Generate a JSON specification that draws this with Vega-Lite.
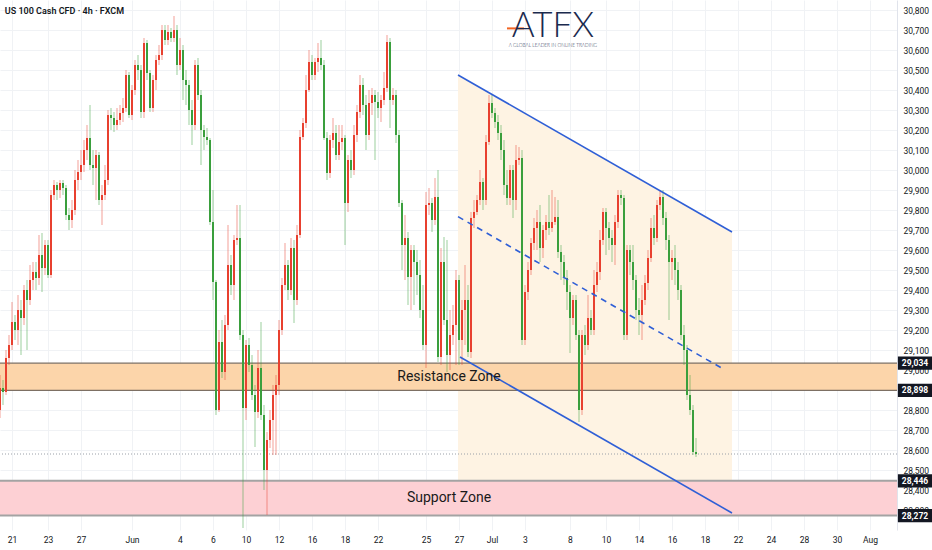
{
  "$schema": "https://vega.github.io/schema/vega-lite/v6.json",
  "description": "US 100 Cash CFD 4h candles with descending channel, resistance and support zones",
  "width": 897,
  "height": 530,
  "autosize": {"type": "none"},
  "padding": {"left": 0, "top": 0, "right": 35, "bottom": 20},
  "background": "white",
  "config": {
    "view": {"stroke": null},
    "axis": {"labelFont": "Roboto, sans-serif", "labelColor": "#131722", "title": null, "ticks": false, "labelOverlap": false},
    "scale": {"continuousPadding": 0}
  },
  "datasets": {
    "candles": [
      {"t":0,"o":28800,"h":28975,"l":28760,"c":28910},
      {"t":1,"o":28910,"h":28950,"l":28825,"c":28890},
      {"t":2,"o":28890,"h":29100,"l":28875,"c":29060},
      {"t":3,"o":29060,"h":29175,"l":29025,"c":29125},
      {"t":4,"o":29125,"h":29340,"l":29100,"c":29240},
      {"t":5,"o":29240,"h":29275,"l":29150,"c":29200},
      {"t":6,"o":29200,"h":29375,"l":29125,"c":29300},
      {"t":7,"o":29300,"h":29350,"l":29075,"c":29260},
      {"t":8,"o":29260,"h":29425,"l":29225,"c":29400},
      {"t":9,"o":29400,"h":29450,"l":29100,"c":29350},
      {"t":10,"o":29350,"h":29525,"l":29325,"c":29450},
      {"t":11,"o":29450,"h":29540,"l":29400,"c":29490},
      {"t":12,"o":29490,"h":29540,"l":29400,"c":29460},
      {"t":13,"o":29460,"h":29675,"l":29425,"c":29575},
      {"t":14,"o":29575,"h":29685,"l":29390,"c":29510},
      {"t":15,"o":29510,"h":29650,"l":29475,"c":29625},
      {"t":16,"o":29625,"h":29650,"l":29460,"c":29475},
      {"t":17,"o":29475,"h":29900,"l":29460,"c":29875},
      {"t":18,"o":29875,"h":29950,"l":29850,"c":29925},
      {"t":19,"o":29925,"h":29940,"l":29850,"c":29900},
      {"t":20,"o":29900,"h":29950,"l":29860,"c":29935},
      {"t":21,"o":29935,"h":29950,"l":29875,"c":29910},
      {"t":22,"o":29910,"h":29925,"l":29750,"c":29775},
      {"t":23,"o":29775,"h":29810,"l":29700,"c":29750},
      {"t":24,"o":29750,"h":29850,"l":29710,"c":29800},
      {"t":25,"o":29800,"h":30000,"l":29775,"c":29950},
      {"t":26,"o":29950,"h":30050,"l":29900,"c":29990},
      {"t":27,"o":29990,"h":30100,"l":29950,"c":30025},
      {"t":28,"o":30025,"h":30150,"l":29990,"c":30100},
      {"t":29,"o":30100,"h":30225,"l":30050,"c":30160},
      {"t":30,"o":30160,"h":30325,"l":30000,"c":30025},
      {"t":31,"o":30025,"h":30100,"l":29925,"c":30010},
      {"t":32,"o":30010,"h":30100,"l":29850,"c":30075},
      {"t":33,"o":30075,"h":30090,"l":29825,"c":29850},
      {"t":34,"o":29850,"h":29925,"l":29725,"c":29875},
      {"t":35,"o":29875,"h":30025,"l":29850,"c":29950},
      {"t":36,"o":29950,"h":30300,"l":29925,"c":30275},
      {"t":37,"o":30275,"h":30310,"l":30200,"c":30260},
      {"t":38,"o":30260,"h":30290,"l":30190,"c":30225},
      {"t":39,"o":30225,"h":30310,"l":30200,"c":30250},
      {"t":40,"o":30250,"h":30325,"l":30225,"c":30285},
      {"t":41,"o":30285,"h":30360,"l":30240,"c":30310},
      {"t":42,"o":30310,"h":30500,"l":30290,"c":30475},
      {"t":43,"o":30475,"h":30490,"l":30260,"c":30275},
      {"t":44,"o":30275,"h":30425,"l":30250,"c":30400},
      {"t":45,"o":30400,"h":30550,"l":30375,"c":30525},
      {"t":46,"o":30525,"h":30575,"l":30450,"c":30500},
      {"t":47,"o":30500,"h":30525,"l":30260,"c":30290},
      {"t":48,"o":30290,"h":30660,"l":30260,"c":30635},
      {"t":49,"o":30635,"h":30650,"l":30450,"c":30485},
      {"t":50,"o":30485,"h":30500,"l":30290,"c":30310},
      {"t":51,"o":30310,"h":30475,"l":30290,"c":30450},
      {"t":52,"o":30450,"h":30575,"l":30400,"c":30550},
      {"t":53,"o":30550,"h":30625,"l":30525,"c":30575},
      {"t":54,"o":30575,"h":30725,"l":30550,"c":30700},
      {"t":55,"o":30700,"h":30725,"l":30625,"c":30650},
      {"t":56,"o":30650,"h":30725,"l":30625,"c":30690},
      {"t":57,"o":30690,"h":30710,"l":30640,"c":30660},
      {"t":58,"o":30660,"h":30770,"l":30640,"c":30700},
      {"t":59,"o":30700,"h":30725,"l":30475,"c":30525},
      {"t":60,"o":30525,"h":30660,"l":30500,"c":30600},
      {"t":61,"o":30600,"h":30625,"l":30350,"c":30450},
      {"t":62,"o":30450,"h":30500,"l":30325,"c":30425},
      {"t":63,"o":30425,"h":30450,"l":30225,"c":30300},
      {"t":64,"o":30300,"h":30350,"l":30125,"c":30225},
      {"t":65,"o":30225,"h":30550,"l":30200,"c":30525},
      {"t":66,"o":30525,"h":30560,"l":30350,"c":30375},
      {"t":67,"o":30375,"h":30400,"l":30025,"c":30200},
      {"t":68,"o":30200,"h":30225,"l":30100,"c":30165},
      {"t":69,"o":30165,"h":30210,"l":30125,"c":30150},
      {"t":70,"o":30150,"h":30160,"l":29725,"c":29740},
      {"t":71,"o":29740,"h":29900,"l":29350,"c":29440},
      {"t":72,"o":29440,"h":29450,"l":28775,"c":28800},
      {"t":73,"o":28800,"h":29200,"l":28790,"c":29140},
      {"t":74,"o":29140,"h":29250,"l":28960,"c":28990},
      {"t":75,"o":28990,"h":29275,"l":28950,"c":29225},
      {"t":76,"o":29225,"h":29725,"l":29200,"c":29525},
      {"t":77,"o":29525,"h":29575,"l":29375,"c":29425},
      {"t":78,"o":29425,"h":29675,"l":29350,"c":29650},
      {"t":79,"o":29650,"h":29825,"l":29625,"c":29660},
      {"t":80,"o":29660,"h":29825,"l":29150,"c":29175},
      {"t":81,"o":29175,"h":29200,"l":28210,"c":28810},
      {"t":82,"o":28810,"h":29150,"l":28750,"c":29125},
      {"t":83,"o":29125,"h":29160,"l":28990,"c":29025},
      {"t":84,"o":29025,"h":29075,"l":28850,"c":28875},
      {"t":85,"o":28875,"h":28925,"l":28615,"c":28790},
      {"t":86,"o":28790,"h":29100,"l":28760,"c":29010},
      {"t":87,"o":29010,"h":29240,"l":28750,"c":28775},
      {"t":88,"o":28775,"h":28825,"l":28400,"c":28500},
      {"t":89,"o":28500,"h":28690,"l":28275,"c":28650},
      {"t":90,"o":28650,"h":28800,"l":28610,"c":28750},
      {"t":91,"o":28750,"h":28925,"l":28575,"c":28875},
      {"t":92,"o":28875,"h":28975,"l":28575,"c":28925},
      {"t":93,"o":28925,"h":29250,"l":28875,"c":29200},
      {"t":94,"o":29200,"h":29460,"l":29175,"c":29425},
      {"t":95,"o":29425,"h":29635,"l":29400,"c":29525},
      {"t":96,"o":29525,"h":29550,"l":29350,"c":29400},
      {"t":97,"o":29400,"h":29660,"l":29375,"c":29610},
      {"t":98,"o":29610,"h":29650,"l":29235,"c":29350},
      {"t":99,"o":29350,"h":29725,"l":29325,"c":29675},
      {"t":100,"o":29675,"h":30200,"l":29660,"c":30165},
      {"t":101,"o":30165,"h":30260,"l":30150,"c":30235},
      {"t":102,"o":30235,"h":30475,"l":30210,"c":30400},
      {"t":103,"o":30400,"h":30600,"l":30390,"c":30540},
      {"t":104,"o":30540,"h":30575,"l":30450,"c":30475},
      {"t":105,"o":30475,"h":30560,"l":30450,"c":30540},
      {"t":106,"o":30540,"h":30635,"l":30490,"c":30560},
      {"t":107,"o":30560,"h":30650,"l":30500,"c":30525},
      {"t":108,"o":30525,"h":30550,"l":30150,"c":30160},
      {"t":109,"o":30160,"h":30190,"l":29950,"c":29985},
      {"t":110,"o":29985,"h":30175,"l":29960,"c":30150},
      {"t":111,"o":30150,"h":30260,"l":30110,"c":30185},
      {"t":112,"o":30185,"h":30225,"l":30050,"c":30075},
      {"t":113,"o":30075,"h":30225,"l":30050,"c":30140},
      {"t":114,"o":30140,"h":30225,"l":30100,"c":30160},
      {"t":115,"o":30160,"h":30175,"l":29625,"c":29835},
      {"t":116,"o":29835,"h":30075,"l":29790,"c":30050},
      {"t":117,"o":30050,"h":30100,"l":29960,"c":30000},
      {"t":118,"o":30000,"h":30225,"l":29975,"c":30175},
      {"t":119,"o":30175,"h":30325,"l":30140,"c":30290},
      {"t":120,"o":30290,"h":30475,"l":30260,"c":30425},
      {"t":121,"o":30425,"h":30460,"l":30275,"c":30325},
      {"t":122,"o":30325,"h":30375,"l":30100,"c":30175},
      {"t":123,"o":30175,"h":30400,"l":30150,"c":30335},
      {"t":124,"o":30335,"h":30410,"l":30275,"c":30375},
      {"t":125,"o":30375,"h":30400,"l":30050,"c":30340},
      {"t":126,"o":30340,"h":30390,"l":30260,"c":30310},
      {"t":127,"o":30310,"h":30375,"l":30240,"c":30350},
      {"t":128,"o":30350,"h":30490,"l":30325,"c":30410},
      {"t":129,"o":30410,"h":30675,"l":30390,"c":30640},
      {"t":130,"o":30640,"h":30660,"l":30210,"c":30350},
      {"t":131,"o":30350,"h":30410,"l":30325,"c":30375},
      {"t":132,"o":30375,"h":30400,"l":30135,"c":30175},
      {"t":133,"o":30175,"h":30200,"l":29815,"c":29835},
      {"t":134,"o":29835,"h":29850,"l":29500,"c":29625},
      {"t":135,"o":29625,"h":29775,"l":29450,"c":29660},
      {"t":136,"o":29660,"h":29690,"l":29325,"c":29465},
      {"t":137,"o":29465,"h":29625,"l":29300,"c":29600},
      {"t":138,"o":29600,"h":29625,"l":29325,"c":29540},
      {"t":139,"o":29540,"h":29600,"l":29375,"c":29475},
      {"t":140,"o":29475,"h":29550,"l":29260,"c":29300},
      {"t":141,"o":29300,"h":29425,"l":29100,"c":29125},
      {"t":142,"o":29125,"h":29890,"l":29010,"c":29825},
      {"t":143,"o":29825,"h":29910,"l":29775,"c":29835},
      {"t":144,"o":29835,"h":29860,"l":29690,"c":29750},
      {"t":145,"o":29750,"h":29960,"l":29725,"c":29865},
      {"t":146,"o":29865,"h":30000,"l":29040,"c":29065},
      {"t":147,"o":29065,"h":29610,"l":29025,"c":29540},
      {"t":148,"o":29540,"h":29665,"l":29225,"c":29250},
      {"t":149,"o":29250,"h":29650,"l":28990,"c":29075},
      {"t":150,"o":29075,"h":29300,"l":29000,"c":29175},
      {"t":151,"o":29175,"h":29325,"l":29125,"c":29225},
      {"t":152,"o":29225,"h":29500,"l":29025,"c":29450},
      {"t":153,"o":29450,"h":29475,"l":29025,"c":29150},
      {"t":154,"o":29150,"h":29350,"l":29025,"c":29300},
      {"t":155,"o":29300,"h":29525,"l":29125,"c":29350},
      {"t":156,"o":29350,"h":29425,"l":29065,"c":29090},
      {"t":157,"o":29090,"h":29790,"l":29060,"c":29760},
      {"t":158,"o":29760,"h":29850,"l":29710,"c":29790},
      {"t":159,"o":29790,"h":29875,"l":29775,"c":29850},
      {"t":160,"o":29850,"h":30000,"l":29825,"c":29940},
      {"t":161,"o":29940,"h":29960,"l":29800,"c":29850},
      {"t":162,"o":29850,"h":30175,"l":29825,"c":30140},
      {"t":163,"o":30140,"h":30375,"l":30125,"c":30335},
      {"t":164,"o":30335,"h":30375,"l":30260,"c":30285},
      {"t":165,"o":30285,"h":30310,"l":30210,"c":30240},
      {"t":166,"o":30240,"h":30275,"l":30150,"c":30185},
      {"t":167,"o":30185,"h":30225,"l":30050,"c":30100},
      {"t":168,"o":30100,"h":30150,"l":29875,"c":29925},
      {"t":169,"o":29925,"h":30000,"l":29825,"c":29860},
      {"t":170,"o":29860,"h":30025,"l":29825,"c":30000},
      {"t":171,"o":30000,"h":30025,"l":29760,"c":29850},
      {"t":172,"o":29850,"h":30125,"l":29800,"c":30050},
      {"t":173,"o":30050,"h":30115,"l":30025,"c":30060},
      {"t":174,"o":30060,"h":30100,"l":29125,"c":29150},
      {"t":175,"o":29150,"h":29425,"l":29125,"c":29390},
      {"t":176,"o":29390,"h":29540,"l":29350,"c":29500},
      {"t":177,"o":29500,"h":29660,"l":29475,"c":29635},
      {"t":178,"o":29635,"h":29760,"l":29600,"c":29710},
      {"t":179,"o":29710,"h":29800,"l":29600,"c":29740},
      {"t":180,"o":29740,"h":29825,"l":29540,"c":29610},
      {"t":181,"o":29610,"h":29725,"l":29560,"c":29700},
      {"t":182,"o":29700,"h":29775,"l":29650,"c":29740},
      {"t":183,"o":29740,"h":29875,"l":29675,"c":29710},
      {"t":184,"o":29710,"h":29900,"l":29690,"c":29740},
      {"t":185,"o":29740,"h":29865,"l":29725,"c":29765},
      {"t":186,"o":29765,"h":29850,"l":29560,"c":29590},
      {"t":187,"o":29590,"h":29625,"l":29450,"c":29540},
      {"t":188,"o":29540,"h":29575,"l":29425,"c":29460},
      {"t":189,"o":29460,"h":29500,"l":29300,"c":29390},
      {"t":190,"o":29390,"h":29425,"l":29085,"c":29260},
      {"t":191,"o":29260,"h":29375,"l":29225,"c":29350},
      {"t":192,"o":29350,"h":29375,"l":29150,"c":29175},
      {"t":193,"o":29175,"h":29200,"l":28740,"c":28800},
      {"t":194,"o":28800,"h":29200,"l":28775,"c":29175},
      {"t":195,"o":29175,"h":29225,"l":29075,"c":29125},
      {"t":196,"o":29125,"h":29375,"l":29100,"c":29260},
      {"t":197,"o":29260,"h":29300,"l":29175,"c":29200},
      {"t":198,"o":29200,"h":29500,"l":29175,"c":29425},
      {"t":199,"o":29425,"h":29540,"l":29390,"c":29490},
      {"t":200,"o":29490,"h":29700,"l":29450,"c":29650},
      {"t":201,"o":29650,"h":29810,"l":29625,"c":29790},
      {"t":202,"o":29790,"h":29810,"l":29575,"c":29710},
      {"t":203,"o":29710,"h":29740,"l":29600,"c":29660},
      {"t":204,"o":29660,"h":29700,"l":29540,"c":29625},
      {"t":205,"o":29625,"h":29775,"l":29525,"c":29740},
      {"t":206,"o":29740,"h":29900,"l":29710,"c":29875},
      {"t":207,"o":29875,"h":29900,"l":29825,"c":29860},
      {"t":208,"o":29860,"h":29875,"l":29150,"c":29175},
      {"t":209,"o":29175,"h":29625,"l":29150,"c":29600},
      {"t":210,"o":29600,"h":29625,"l":29475,"c":29540},
      {"t":211,"o":29540,"h":29625,"l":29400,"c":29450},
      {"t":212,"o":29450,"h":29475,"l":29250,"c":29300},
      {"t":213,"o":29300,"h":29360,"l":29175,"c":29275},
      {"t":214,"o":29275,"h":29425,"l":29150,"c":29350},
      {"t":215,"o":29350,"h":29475,"l":29325,"c":29435},
      {"t":216,"o":29435,"h":29600,"l":29400,"c":29560},
      {"t":217,"o":29560,"h":29760,"l":29540,"c":29710},
      {"t":218,"o":29710,"h":29775,"l":29625,"c":29660},
      {"t":219,"o":29660,"h":29850,"l":29640,"c":29825},
      {"t":220,"o":29825,"h":29900,"l":29800,"c":29865},
      {"t":221,"o":29865,"h":29900,"l":29725,"c":29760},
      {"t":222,"o":29760,"h":29790,"l":29600,"c":29650},
      {"t":223,"o":29650,"h":29675,"l":29250,"c":29540},
      {"t":224,"o":29540,"h":29600,"l":29450,"c":29560},
      {"t":225,"o":29560,"h":29625,"l":29425,"c":29500},
      {"t":226,"o":29500,"h":29540,"l":29350,"c":29400},
      {"t":227,"o":29400,"h":29425,"l":29150,"c":29175},
      {"t":228,"o":29175,"h":29225,"l":29025,"c":29100},
      {"t":229,"o":29100,"h":29125,"l":28850,"c":28875},
      {"t":230,"o":28875,"h":28975,"l":28775,"c":28800},
      {"t":231,"o":28800,"h":28825,"l":28575,"c":28590},
      {"t":232,"o":28590,"h":28660,"l":28565,"c":28580}
    ],
    "shade": [
      {"t": 152.67, "p": 30475, "b": 28446},
      {"t": 244, "p": 29690, "b": 28446}
    ],
    "zones": [
      {"name": "Resistance Zone", "t": 0, "t2": 299, "lo": 28898, "hi": 29034, "mid": 28966, "xc": 149.67, "fill": "#fcd5aa"},
      {"name": "Support Zone", "t": 0, "t2": 299, "lo": 28272, "hi": 28446, "mid": 28360, "xc": 149.67, "fill": "#fdd0d4"}
    ],
    "edges": [
      {"p": 29034, "kind": "res"},
      {"p": 28898, "kind": "res"},
      {"p": 28446, "kind": "sup"},
      {"p": 28272, "kind": "sup"}
    ],
    "last": [{"p": 28580}],
    "channel": [
      {"id": "upper", "t": 152.67, "p": 30475},
      {"id": "upper", "t": 244, "p": 29690},
      {"id": "lower", "t": 153.33, "p": 29065},
      {"id": "lower", "t": 244, "p": 28285}
    ],
    "mid": [
      {"t": 152.67, "p": 29767},
      {"t": 241.67, "p": 29000}
    ],
    "badges": [
      {"p": 29034, "lo": 29001, "hi": 29067, "label": "29,034", "t": 299.3, "t2": 311, "tc": 305},
      {"p": 28898, "lo": 28865, "hi": 28931, "label": "28,898", "t": 299.3, "t2": 311, "tc": 305},
      {"p": 28446, "lo": 28413, "hi": 28479, "label": "28,446", "t": 299.3, "t2": 311, "tc": 305},
      {"p": 28272, "lo": 28239, "hi": 28305, "label": "28,272", "t": 299.3, "t2": 311, "tc": 305}
    ],
    "notes": [
      {"text": "US 100 Cash CFD · 4h · FXCM", "t": 1.6, "p": 30795}
    ],
    "logo": [
      {"text": "ATFX", "t": 184.3, "p": 30666, "size": 35},
      {"text": "A GLOBAL LEADER IN ONLINE TRADING", "t": 184.3, "p": 30614, "size": 4.8}
    ],
    "logobar": [{"t": 169, "t2": 174.7, "p": 30708}]
  },
  "layer": [
    {
      "data": {"name": "shade"},
      "mark": {"type": "area", "color": "#fef3e3", "opacity": 1},
      "encoding": {
        "x": {
          "field": "t", "type": "quantitative",
          "scale": {"domain": [0, 299], "nice": false, "zero": false, "padding": 0},
          "axis": {
            "values": [4,16,27,44,60,71,82,93,104,115,126,142,153,164,175,190,202,213,224,235,246,257,268,279,290],
            "tickCount": 200,
            "labelExpr": "['21','23','27','Jun','4','6','10','12','16','18','22','25','27','Jul','3','8','10','14','16','18','22','24','28','30','Aug'][indexof([4,16,27,44,60,71,82,93,104,115,126,142,153,164,175,190,202,213,224,235,246,257,268,279,290], datum.value)]",
            "grid": true, "gridColor": "#f0f2f5", "domain": false,
            "labelFontSize": 8.5, "labelPadding": 5, "labelFlush": false, "labelOverlap": false
          }
        },
        "y": {
          "field": "p", "type": "quantitative",
          "scale": {"domain": [28200, 30850], "nice": false, "zero": false},
          "axis": {
            "orient": "right",
            "values": [28300,28400,28500,28600,28700,28800,29000,29100,29200,29300,29400,29500,29600,29700,29800,29900,30000,30100,30200,30300,30400,30500,30600,30700,30800],
            "tickCount": 200,
            "labelExpr": "format(datum.value, ',')",
            "grid": true, "gridColor": "#f0f2f5",
            "domain": true, "domainColor": "#e0e3eb",
            "labelFontSize": 8.5, "labelPadding": 6, "labelFlush": false, "labelOverlap": false
          }
        },
        "y2": {"field": "b"}
      }
    },
    {
      "data": {"name": "zones"},
      "mark": {"type": "rect"},
      "encoding": {
        "x": {"field": "t", "type": "quantitative"},
        "x2": {"field": "t2"},
        "y": {"field": "lo", "type": "quantitative"},
        "y2": {"field": "hi"},
        "color": {"field": "fill", "type": "nominal", "scale": null}
      }
    },
    {
      "data": {"name": "edges"},
      "mark": {"type": "rule"},
      "encoding": {
        "y": {"field": "p", "type": "quantitative"},
        "color": {"field": "kind", "type": "nominal", "scale": {"domain": ["res", "sup"], "range": ["#7d7064", "#a3a3a3"]}, "legend": null},
        "strokeWidth": {"field": "kind", "type": "nominal", "scale": {"domain": ["res", "sup"], "range": [1.3, 2]}, "legend": null}
      }
    },
    {
      "data": {"name": "last"},
      "mark": {"type": "rule", "color": "#9aa0a8", "strokeDash": [1, 2], "strokeWidth": 1},
      "encoding": {
        "y": {"field": "p", "type": "quantitative"}
      }
    },
    {
      "data": {"name": "candles"},
      "mark": {"type": "rule", "strokeWidth": 1, "opacity": 0.5},
      "encoding": {
        "x": {"field": "t", "type": "quantitative"},
        "y": {"field": "l", "type": "quantitative"},
        "y2": {"field": "h"},
        "color": {"condition": {"test": "datum.c >= datum.o", "value": "#e8402f"}, "value": "#3a9f3d"}
      }
    },
    {
      "data": {"name": "candles"},
      "mark": {"type": "bar", "size": 2},
      "encoding": {
        "x": {"field": "t", "type": "quantitative"},
        "y": {"field": "o", "type": "quantitative"},
        "y2": {"field": "c"},
        "color": {"condition": {"test": "datum.c >= datum.o", "value": "#e8402f"}, "value": "#3a9f3d"}
      }
    },
    {
      "data": {"name": "channel"},
      "mark": {"type": "line", "color": "#2f5fd6", "strokeWidth": 1.6},
      "encoding": {
        "x": {"field": "t", "type": "quantitative"},
        "y": {"field": "p", "type": "quantitative"},
        "detail": {"field": "id", "type": "nominal"}
      }
    },
    {
      "data": {"name": "mid"},
      "mark": {"type": "line", "color": "#2f5fd6", "strokeWidth": 1.6, "strokeDash": [6, 5]},
      "encoding": {
        "x": {"field": "t", "type": "quantitative"},
        "y": {"field": "p", "type": "quantitative"}
      }
    },
    {
      "data": {"name": "zones"},
      "mark": {"type": "text", "fontSize": 14, "font": "Roboto, sans-serif", "color": "#1a1a1a", "align": "center", "baseline": "middle"},
      "encoding": {
        "x": {"field": "xc", "type": "quantitative"},
        "y": {"field": "mid", "type": "quantitative"},
        "text": {"field": "name"}
      }
    },
    {
      "data": {"name": "badges"},
      "mark": {"type": "rect", "color": "#131722"},
      "encoding": {
        "x": {"field": "t", "type": "quantitative"},
        "x2": {"field": "t2"},
        "y": {"field": "lo", "type": "quantitative"},
        "y2": {"field": "hi"}
      }
    },
    {
      "data": {"name": "badges"},
      "mark": {"type": "text", "color": "white", "fontSize": 8.5, "fontWeight": "bold", "font": "Roboto, sans-serif", "align": "center", "baseline": "middle"},
      "encoding": {
        "x": {"field": "tc", "type": "quantitative"},
        "y": {"field": "p", "type": "quantitative"},
        "text": {"field": "label"}
      }
    },
    {
      "data": {"name": "notes"},
      "mark": {"type": "text", "color": "#131722", "fontSize": 9, "fontWeight": 600, "font": "Roboto, sans-serif", "align": "left", "baseline": "middle"},
      "encoding": {
        "x": {"field": "t", "type": "quantitative"},
        "y": {"field": "p", "type": "quantitative"},
        "text": {"field": "text"}
      }
    },
    {
      "data": {"name": "logobar"},
      "mark": {"type": "rule", "color": "#f26522", "strokeWidth": 2},
      "encoding": {
        "x": {"field": "t", "type": "quantitative"},
        "x2": {"field": "t2"},
        "y": {"field": "p", "type": "quantitative"}
      }
    },
    {
      "data": {"name": "logo"},
      "mark": {"type": "text", "color": "#1b2a4e", "font": "Lato, Roboto, sans-serif", "fontWeight": 300, "align": "center", "baseline": "alphabetic"},
      "encoding": {
        "x": {"field": "t", "type": "quantitative"},
        "y": {"field": "p", "type": "quantitative"},
        "text": {"field": "text"},
        "size": {"field": "size", "type": "quantitative", "scale": null}
      }
    }
  ]
}
